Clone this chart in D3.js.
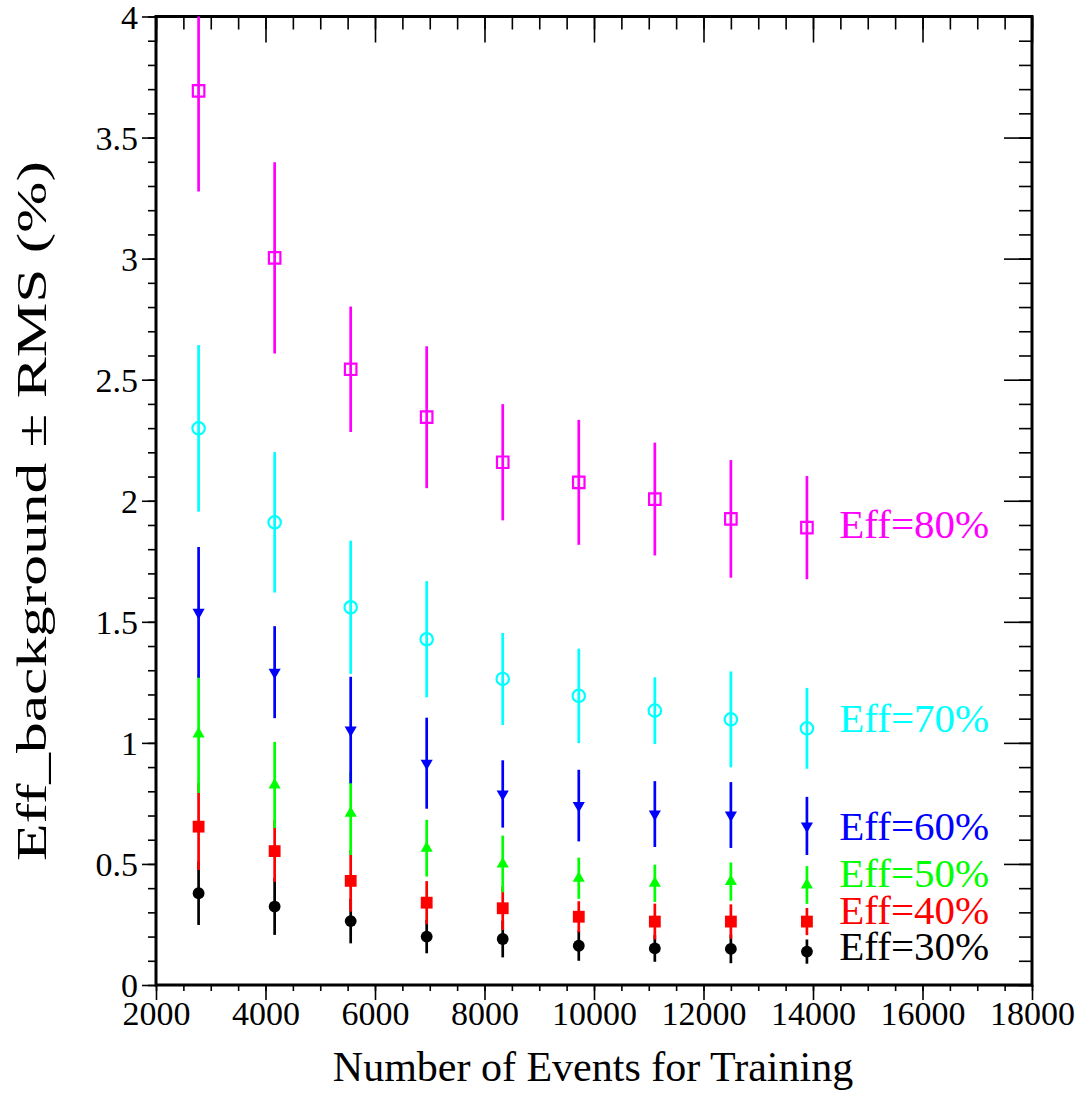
<!DOCTYPE html>
<html>
<head>
<meta charset="utf-8">
<script src="https://cdn.jsdelivr.net/npm/d3@7"></script>
<style>
  html, body { margin: 0; padding: 0; background: #fff; }
  text { font-family: "Liberation Serif", "DejaVu Serif", serif; }
</style>
</head>
<body>
<div id="chart"></div>
<script>
// Background efficiency vs. training sample size, one series per signal efficiency

const trainEvents = [2778, 4167, 5556, 6944, 8333, 9722, 11111, 12500, 13889];

const eff80 = [3.693, 3.003, 2.543, 2.345, 2.159, 2.076, 2.007, 1.925, 1.889];
const rms80 = [0.416, 0.395, 0.259, 0.293, 0.240, 0.258, 0.233, 0.243, 0.213];
const eff70 = [2.299, 1.911, 1.560, 1.428, 1.264, 1.194, 1.133, 1.097, 1.060];
const rms70 = [0.344, 0.290, 0.275, 0.240, 0.190, 0.195, 0.138, 0.198, 0.167];
const eff60 = [1.539, 1.292, 1.053, 0.916, 0.789, 0.741, 0.706, 0.702, 0.657];
const rms60 = [0.270, 0.190, 0.220, 0.188, 0.139, 0.148, 0.136, 0.136, 0.120];
const eff50 = [1.037, 0.826, 0.709, 0.565, 0.500, 0.441, 0.420, 0.427, 0.413];
const rms50 = [0.244, 0.178, 0.172, 0.117, 0.117, 0.085, 0.077, 0.079, 0.078];
const eff40 = [0.654, 0.553, 0.430, 0.340, 0.317, 0.282, 0.262, 0.262, 0.262];
const rms40 = [0.179, 0.127, 0.127, 0.089, 0.090, 0.064, 0.074, 0.071, 0.056];
const eff30 = [0.379, 0.324, 0.264, 0.200, 0.190, 0.162, 0.151, 0.149, 0.138];
const rms30 = [0.131, 0.117, 0.092, 0.069, 0.076, 0.062, 0.055, 0.059, 0.050];

const seriesNames = ["Eff=30%", "Eff=40%", "Eff=50%", "Eff=60%", "Eff=70%", "Eff=80%"];

const xTickLabels = [2000, 4000, 6000, 8000, 10000, 12000, 14000, 16000, 18000];
const yTickLabels = [0, 0.5, 1, 1.5, 2, 2.5, 3, 3.5, 4];

// where the series names sit, in data units (x, baseline y)
const labelX = 14480;
const labelY = [0.103, 0.252, 0.405, 0.599, 1.045, 1.846];

// drawn bottom series first, later ones on top
const series = [
  { name: seriesNames[0], y: eff30, e: rms30, color: "#000000", shape: "circle", open: false },
  { name: seriesNames[1], y: eff40, e: rms40, color: "#ff0000", shape: "square", open: false },
  { name: seriesNames[2], y: eff50, e: rms50, color: "#00ff00", shape: "triUp", open: false },
  { name: seriesNames[3], y: eff60, e: rms60, color: "#0000ff", shape: "triDown", open: false },
  { name: seriesNames[4], y: eff70, e: rms70, color: "#00ffff", shape: "circle", open: true },
  { name: seriesNames[5], y: eff80, e: rms80, color: "#ff00ff", shape: "square", open: true }
];

const W = 1081, H = 1095;
const plot = { left: 156, right: 1032, top: 16.5, bottom: 985 };

const svg = d3.select("#chart").append("svg")
  .attr("width", W).attr("height", H);

svg.append("rect").attr("width", W).attr("height", H).attr("fill", "#fff");

const x = d3.scaleLinear().domain([2000, 18000]).range([plot.left, plot.right]);
const y = d3.scaleLinear().domain([0, 4]).range([plot.bottom, plot.top]);

svg.append("clipPath").attr("id", "clip")
  .append("rect")
  .attr("x", plot.left).attr("y", plot.top)
  .attr("width", plot.right - plot.left).attr("height", plot.bottom - plot.top);

// ---- axes: minor and major ticks drawn as separate axis calls
const xMinor = d3.range(2000, 18001, 500);
const yMinor = d3.range(0, 41).map(i => i / 10);

function styleAxis(g) {
  g.select(".domain").remove();
  g.selectAll("line").attr("stroke", "#000").attr("stroke-width", 1.6);
  g.selectAll("text")
    .attr("fill", "#000")
    .style("font-family", "'Liberation Serif', serif")
    .style("font-size", "34px");
}

// bottom (ticks out)
svg.append("g").attr("transform", `translate(0,${plot.bottom})`)
  .call(d3.axisBottom(x).tickValues(xMinor).tickSize(6).tickFormat(""))
  .call(styleAxis);
svg.append("g").attr("transform", `translate(0,${plot.bottom})`)
  .call(d3.axisBottom(x).tickValues(xTickLabels).tickSize(15).tickFormat(d3.format("d")))
  .call(styleAxis)
  .call(g => g.selectAll("text").attr("y", 0).attr("dy", "1.17em"));

// top (ticks in)
svg.append("g").attr("transform", `translate(0,${plot.top})`)
  .call(d3.axisBottom(x).tickValues(xMinor).tickSize(13).tickFormat(""))
  .call(styleAxis);
svg.append("g").attr("transform", `translate(0,${plot.top})`)
  .call(d3.axisBottom(x).tickValues(xTickLabels).tickSize(26).tickFormat(""))
  .call(styleAxis);

// left (ticks out)
svg.append("g").attr("transform", `translate(${plot.left},0)`)
  .call(d3.axisLeft(y).tickValues(yMinor).tickSize(8).tickFormat(""))
  .call(styleAxis);
svg.append("g").attr("transform", `translate(${plot.left},0)`)
  .call(d3.axisLeft(y).tickValues(yTickLabels).tickSize(14).tickPadding(4).tickFormat(d3.format("")))
  .call(styleAxis)
  .call(g => g.selectAll("text").attr("dy", "0.34em"));

// right (ticks in)
svg.append("g").attr("transform", `translate(${plot.right},0)`)
  .call(d3.axisLeft(y).tickValues(yMinor).tickSize(13).tickFormat(""))
  .call(styleAxis);
svg.append("g").attr("transform", `translate(${plot.right},0)`)
  .call(d3.axisLeft(y).tickValues(yTickLabels).tickSize(28).tickFormat(""))
  .call(styleAxis);

// frame
svg.append("rect")
  .attr("x", plot.left).attr("y", plot.top)
  .attr("width", plot.right - plot.left).attr("height", plot.bottom - plot.top)
  .attr("fill", "none").attr("stroke", "#000").attr("stroke-width", 3);

// axis titles
svg.append("text")
  .attr("x", (plot.left + plot.right) / 2 - 1).attr("y", 1081)
  .attr("text-anchor", "middle")
  .style("font-size", "42px")
  .text("Number of Events for Training");

svg.append("text")
  .attr("transform", "translate(46,511) rotate(-90)")
  .attr("text-anchor", "middle")
  .attr("textLength", 700)
  .attr("lengthAdjust", "spacingAndGlyphs")
  .style("font-size", "42px")
  .text("Eff_background \u00b1 RMS (%)");

// ---- data
const marks = svg.append("g").attr("clip-path", "url(#clip)");

const symbolFor = {
  circle: (open) => d3.symbol(d3.symbolCircle, open ? 121 : 110),
  square: (open) => d3.symbol(d3.symbolSquare, open ? 132 : 140),
  triUp: () => d3.symbol(d3.symbolTriangle, 64),
  triDown: () => d3.symbol(d3.symbolTriangle, 64)
};

series.forEach(s => {
  const pts = trainEvents.map((t, i) => ({ x: t, y: s.y[i], e: s.e[i] }));
  const g = marks.append("g");

  g.selectAll("line.err").data(pts).join("line")
    .attr("class", "err")
    .attr("x1", d => x(d.x)).attr("x2", d => x(d.x))
    .attr("y1", d => y(d.y - d.e)).attr("y2", d => y(d.y + d.e))
    .attr("stroke", s.color).attr("stroke-width", 2.7);

  const sym = symbolFor[s.shape](s.open);
  g.selectAll("path.mk").data(pts).join("path")
    .attr("class", "mk")
    .attr("d", sym)
    .attr("transform", d => `translate(${x(d.x)},${y(d.y)})${s.shape === "triDown" ? " rotate(180)" : ""}`)
    .attr("fill", s.open ? "none" : s.color)
    .attr("stroke", s.color)
    .attr("stroke-width", s.open ? 2.2 : 0);
});

// series names
svg.append("g").selectAll("text").data(series).join("text")
  .attr("x", x(labelX))
  .attr("y", (d, i) => y(labelY[i]))
  .attr("fill", d => d.color)
  .style("font-size", "41px")
  .text(d => d.name);
</script>
</body>
</html>
